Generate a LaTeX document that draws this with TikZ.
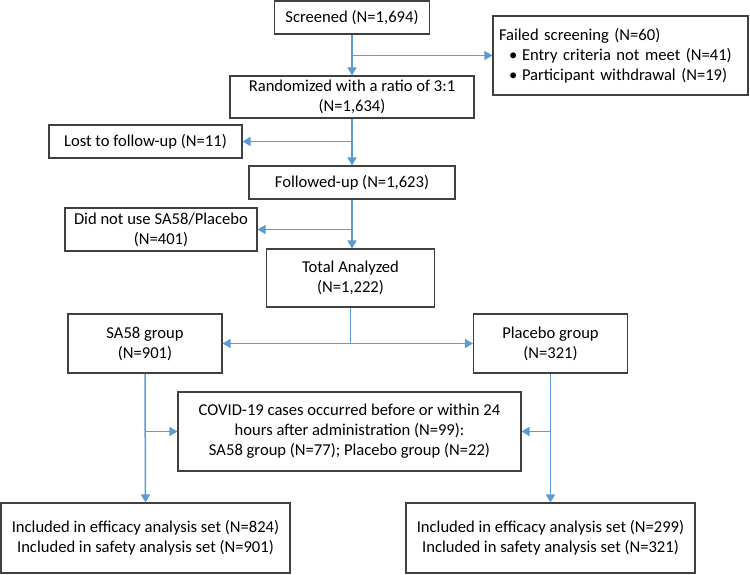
\documentclass[tikz,border=0pt]{standalone}
\usepackage{fontspec}
\setmainfont{Carlito}
\usetikzlibrary{arrows.meta}
\definecolor{lineblue}{HTML}{5B9BD5}
\definecolor{boxgray}{HTML}{404040}
\tikzset{
  box/.style={draw=boxgray, line width=1.1pt, inner sep=0pt, align=center, font=\fontsize{16.6}{20}\selectfont},
  flow/.style={draw=lineblue, line width=1.5pt, -{Triangle[length=8pt,width=9pt]}},
  plainflow/.style={draw=lineblue, line width=1.5pt},
}
\begin{document}
\begin{tikzpicture}[x=1pt,y=-1pt]
\useasboundingbox (0,0) rectangle (750,574);
% boxes
\node[box, minimum width=155, minimum height=33] (scr) at (352,17.5) {Screened (N=1,694)};
\node[box, minimum width=255, minimum height=79, text width=243, align=left, inner xsep=6pt] (fail) at (620.5,55.5)
  {Failed screening (N=60)\\\hspace*{10pt}\makebox[13pt][l]{•}Entry criteria not meet (N=41)\\\hspace*{10pt}\makebox[13pt][l]{•}Participant withdrawal (N=19)};
\node[box, minimum width=244, minimum height=42] (rand) at (352,97) {Randomized with a ratio of 3:1\\(N=1,634)};
\node[box, minimum width=193, minimum height=33] (lost) at (145.5,141.5) {Lost to follow-up (N=11)};
\node[box, minimum width=206, minimum height=33] (fol) at (352,182.5) {Followed-up (N=1,623)};
\node[box, minimum width=192, minimum height=43] (dnu) at (161,229.5) {Did not use SA58/Placebo\\(N=401)};
\node[box, minimum width=168, minimum height=58] (tot) at (350.5,278) {Total Analyzed\\(N=1,222)};
\node[box, minimum width=154, minimum height=59] (sa) at (145,343.5) {SA58 group\\(N=901)};
\node[box, minimum width=154, minimum height=59] (plc) at (550.5,343.5) {Placebo group\\(N=321)};
\node[box, minimum width=343, minimum height=79] (cov) at (349.5,431.5) {COVID-19 cases occurred before or within 24\\hours after administration (N=99):\\SA58 group (N=77); Placebo group (N=22)};
\node[box, minimum width=289, minimum height=70] (bl) at (145.5,538) {Included in efficacy analysis set (N=824)\\Included in safety analysis set (N=901)};
\node[box, minimum width=289, minimum height=70] (br) at (550.5,538) {Included in efficacy analysis set (N=299)\\Included in safety analysis set (N=321)};
% connectors
\draw[flow] (scr.south) -- (scr.south |- rand.north);
\draw[flow] (scr.south |- fail.west) -- (fail.west);
\draw[flow] (rand.south) -- (rand.south |- fol.north);
\draw[flow] (rand.south |- lost.east) -- (lost.east);
\draw[flow] (fol.south) -- (fol.south |- tot.north);
\draw[flow] (fol.south |- dnu.east) -- (dnu.east);
\draw[plainflow] (tot.south) -- (tot.south |- sa.east);
\draw[flow] (tot.south |- sa.east) -- (sa.east);
\draw[flow] (tot.south |- plc.west) -- (plc.west);
\draw[flow] (sa.south) -- (bl.north);
\draw[flow] (sa.south |- cov.west) -- (cov.west);
\draw[flow] (plc.south) -- (br.north);
\draw[flow] (plc.south |- cov.east) -- (cov.east);
\end{tikzpicture}
\end{document}
